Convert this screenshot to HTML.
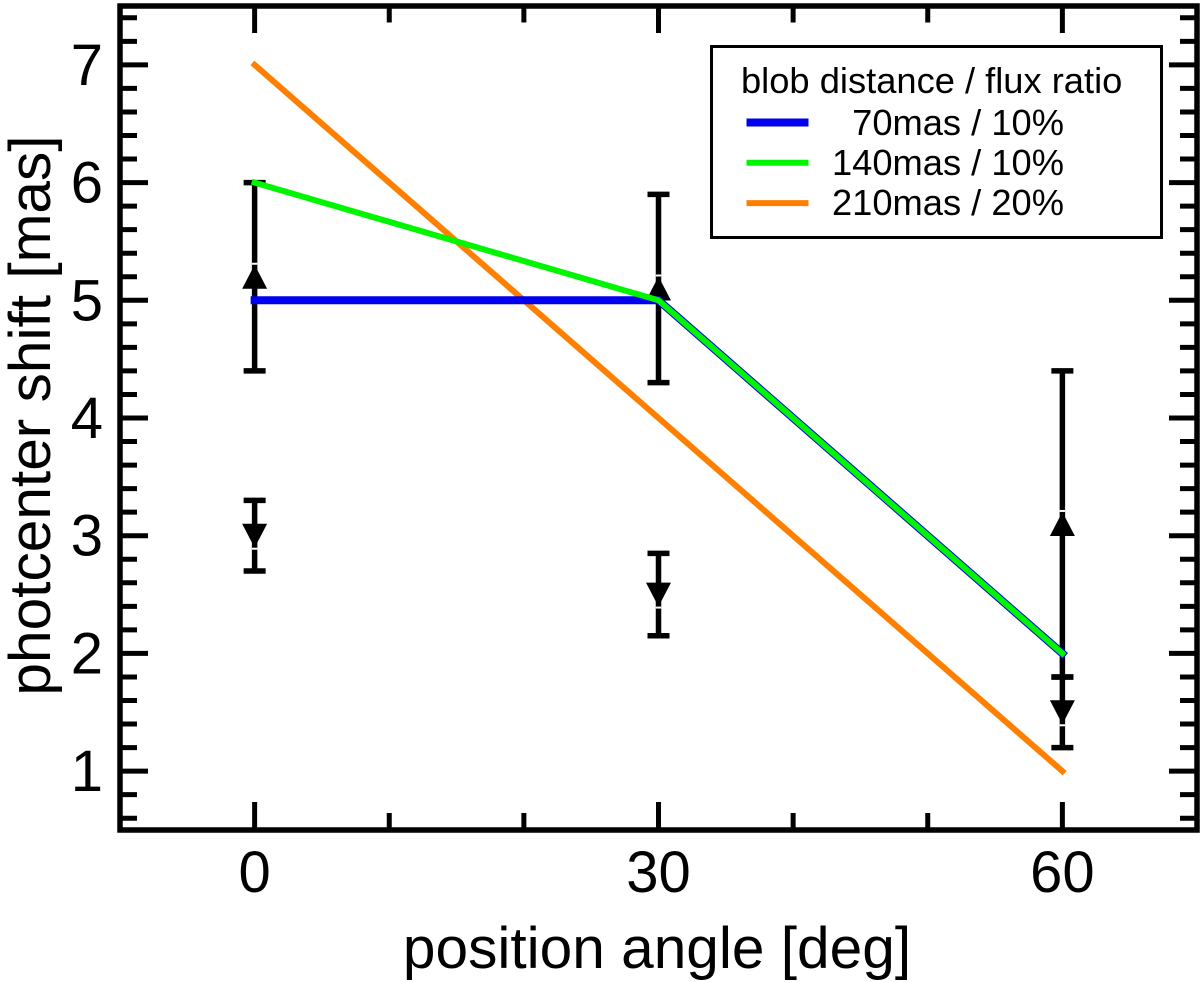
<!DOCTYPE html>
<html lang="en">
<head>
<meta charset="utf-8">
<title>Photocenter shift chart</title>
<style>
html,body{margin:0;padding:0;background:#fff;}
svg{display:block;font-family:"Liberation Sans",Arial,sans-serif;}
</style>
</head>
<body>
<svg id="chart" xmlns="http://www.w3.org/2000/svg" width="1200" height="982" viewBox="0 0 1200 982"></svg>
<script>
const xMajorTicks = [0, 30, 60];
const xMinorTicks = [10, 20, 40, 50];
const yMajorTicks = [1, 2, 3, 4, 5, 6, 7];
const yMinorTicks = [0.6, 0.8, 1.2, 1.4, 1.6, 1.8, 2.2, 2.4, 2.6, 2.8, 3.2, 3.4, 3.6, 3.8, 4.2, 4.4, 4.6, 4.8, 5.2, 5.4, 5.6, 5.8, 6.2, 6.4, 6.6, 6.8, 7.2, 7.4];
const angles = [0, 30, 60];
const blue70 = [5, 5, 2];
const green140 = [6, 5, 2];
const orange210 = [7, 4, 1];
const lowerLimitsValue = [5.2, 5.1, 3.1];
const lowerLimitsLow = [4.4, 4.3, 1.8];
const lowerLimitsHigh = [6, 5.9, 4.4];
const upperLimitsValue = [3, 2.5, 1.5];
const upperLimitsLow = [2.7, 2.15, 1.2];
const upperLimitsHigh = [3.3, 2.85, 1.8];

const svg = document.getElementById('chart');
const NS = 'http://www.w3.org/2000/svg';
const xScale = v => 120 + (v + 10) * (1077 / 80);
const yScale = v => 830 - (v - 0.5) * (824 / 7);

function el(tag, attrs, parent) {
  const n = document.createElementNS(NS, tag);
  for (const k in attrs) n.setAttribute(k, attrs[k]);
  (parent || svg).appendChild(n);
  return n;
}
function line(x1, y1, x2, y2, stroke, w, parent) {
  return el('line', {x1, y1, x2, y2, stroke, 'stroke-width': w}, parent);
}

// white plot background
const plotBg = el('rect', {x: 120, y: 6, width: 1077, height: 824, fill: '#fff'});



// ticks
const xTicksGroup = el('g', {});


xMajorTicks.forEach(v => {
  const a = line(xScale(v), 830, xScale(v), 802, '#000', 5, xTicksGroup);
  
  
  const b = line(xScale(v), 6, xScale(v), 33, '#000', 5, xTicksGroup);
  
  
});
xMinorTicks.forEach(v => {
  const a = line(xScale(v), 830, xScale(v), 813, '#000', 5, xTicksGroup);
  
  
  const b = line(xScale(v), 6, xScale(v), 22.5, '#000', 5, xTicksGroup);
  
  
});
const yTicksGroup = el('g', {});


yMajorTicks.forEach(v => {
  const a = line(120, yScale(v), 148, yScale(v), '#000', 5, yTicksGroup);
  
  
  const b = line(1197, yScale(v), 1169, yScale(v), '#000', 5, yTicksGroup);
  
  
});
yMinorTicks.forEach(v => {
  const a = line(120, yScale(v), 137, yScale(v), '#000', 5, yTicksGroup);
  
  
  const b = line(1197, yScale(v), 1180, yScale(v), '#000', 5, yTicksGroup);
  
  
});

// error bars with limit arrows
function errorBar(i, low, high, val, dir, name) {
  const g = el('g', {});
  
  
  const x = xScale(angles[i]);
  line(x, yScale(low), x, yScale(high), '#000', 5.5, g);
  line(x - 11, yScale(high), x + 11, yScale(high), '#000', 5.5, g);
  line(x - 11, yScale(low), x + 11, yScale(low), '#000', 5.5, g);
  const c = yScale(val);
  const pts = dir > 0
    ? [[x, c - 12], [x + 12.5, c + 12], [x - 12.5, c + 12]]
    : [[x, c + 12], [x + 12.5, c - 12], [x - 12.5, c - 12]];
  el('polygon', {
    points: pts.map(p => p.join(',')).join(' '),
    fill: '#000'
  }, g);
  // small white gap where the bar meets the triangle apex
  if (dir > 0) {
    line(x, c - 12, x, c - 14, '#fff', 5.5, g);
  } else {
    line(x, c + 12, x, c + 14, '#fff', 5.5, g);
  }
}
angles.forEach((a, i) => {
  errorBar(i, lowerLimitsLow[i], lowerLimitsHigh[i], lowerLimitsValue[i], 1, 'error-bar-upper-' + a);
  errorBar(i, upperLimitsLow[i], upperLimitsHigh[i], upperLimitsValue[i], -1, 'error-bar-lower-' + a);
});

// series
function series(values, color, width, name) {
  const p = el('polyline', {
    points: angles.map((a, i) => xScale(a) + ',' + yScale(values[i])).join(' '),
    fill: 'none', stroke: color, 'stroke-width': width,
    'stroke-linejoin': 'miter', 'stroke-linecap': 'square'
  });
  
  
}
series(orange210, '#ff8000', 6, 'series-210mas-20pct');
series(blue70, '#0000f0', 8, 'series-70mas-10pct');
series(green140, '#00f500', 6, 'series-140mas-10pct');

// frame
const frame = el('rect', {x: 120, y: 6, width: 1077, height: 824, fill: 'none', stroke: '#000', 'stroke-width': 5.5});



// tick labels
xMajorTicks.forEach(v => {
  const t = el('text', {x: xScale(v), y: 892, 'font-size': 58, 'text-anchor': 'middle', fill: '#000'});
  t.textContent = v;
  
  
});
yMajorTicks.forEach(v => {
  const t = el('text', {x: 103, y: yScale(v) + 20, 'font-size': 58, 'text-anchor': 'end', fill: '#000'});
  t.textContent = v;
  
  
});

// axis titles
const xTitle = el('text', {x: 657, y: 968, 'font-size': 58.6, 'text-anchor': 'middle', fill: '#000'});
xTitle.textContent = 'position angle [deg]';


const yTitle = el('text', {x: 0, y: 0, 'font-size': 58.6, 'text-anchor': 'middle', fill: '#000', transform: 'translate(50 415.5) rotate(-90)'});
yTitle.textContent = 'photcenter shift [mas]';



// legend
const legend = el('g', {});


el('rect', {x: 711.5, y: 46.5, width: 450, height: 191, fill: '#fff', stroke: '#000', 'stroke-width': 3}, legend);
const legendHead = el('text', {x: 741, y: 93, 'font-size': 36.3, fill: '#000'}, legend);
legendHead.textContent = 'blob distance / flux ratio';


const legendLabels = ['70mas / 10%', '140mas / 10%', '210mas / 20%'];
const legendColors = ['#0000f0', '#00f500', '#ff8000'];
const legendWidths = [8, 6, 6];
legendLabels.forEach((label, i) => {
  const ly = 122.5 + i * 40.3;
  const s = line(746.5, ly, 808.5, ly, legendColors[i], legendWidths[i], legend);
  
  
  const t = el('text', {x: 1064, y: 135 + i * 40, 'font-size': 36.3, 'text-anchor': 'end', fill: '#000'}, legend);
  t.textContent = label;
  
  
});
</script>
</body>
</html>
